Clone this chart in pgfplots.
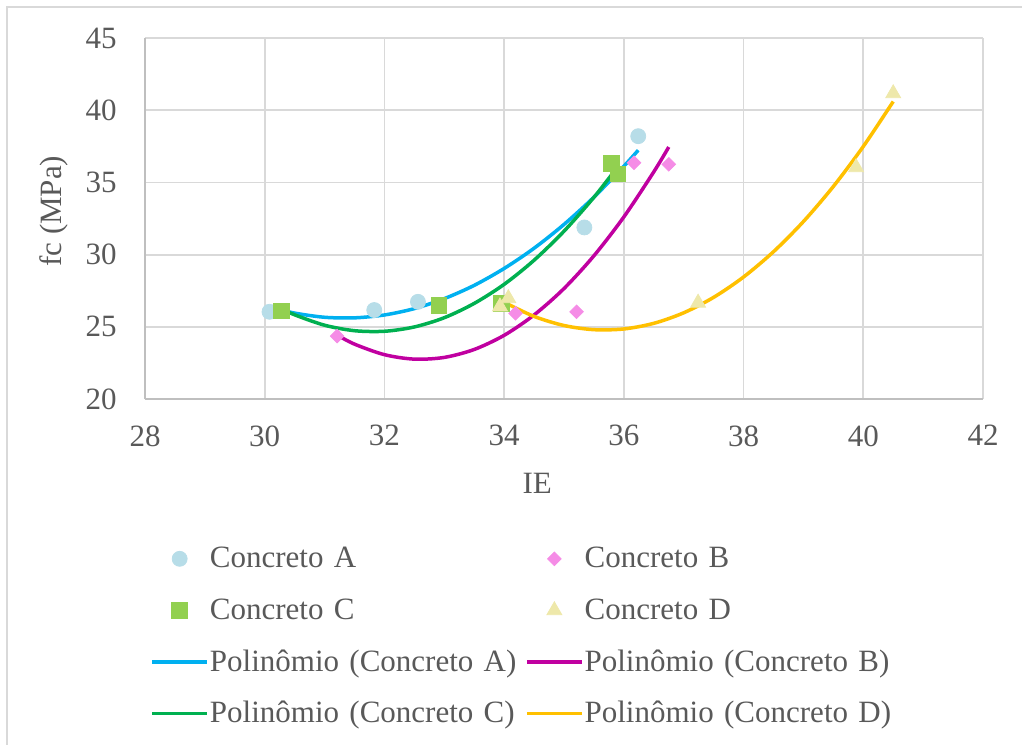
\documentclass[border=0pt]{standalone}
\usepackage{fontspec}
\setmainfont{Liberation Serif}
\usepackage{pgfplots}
\pgfplotsset{compat=1.18}
\usepackage{pgfplotstable}

\definecolor{txt}{HTML}{595959}
\definecolor{gridcol}{HTML}{D9D9D9}
\definecolor{axcol}{HTML}{BFBFBF}
\definecolor{bordercol}{HTML}{D9D9D9}
\definecolor{mA}{HTML}{B7DDE8}
\definecolor{mB}{HTML}{F58CE6}
\definecolor{mC}{HTML}{92D050}
\definecolor{mD}{HTML}{EEE8AA}
\definecolor{lA}{HTML}{00B0F0}
\definecolor{lB}{HTML}{C000A0}
\definecolor{lC}{HTML}{00B050}
\definecolor{lD}{HTML}{FFC000}

\newcommand{\fs}{\fontsize{15.5}{18}\selectfont}

\pgfplotstableread{
x y
30.08 26.04
31.83 26.16
32.56 26.73
35.34 31.88
36.24 38.20
}\dataA
\pgfplotstableread{
x y
31.21 24.36
34.19 25.93
35.21 26.04
36.17 36.36
36.75 36.25
}\dataB
\pgfplotstableread{
x y
30.28 26.11
32.91 26.50
33.95 26.62
35.79 36.30
35.90 35.60
}\dataC
\pgfplotstableread{
x y
33.93 26.40
34.07 26.97
37.24 26.66
39.88 36.04
40.50 41.16
}\dataD
% trend curves
\pgfplotstableread{
x y
30.08 26.37
30.5 25.95
31.0 25.66
31.5 25.62
32.0 25.82
32.5 26.26
33.0 26.95
33.5 27.87
34.0 29.04
34.5 30.44
35.0 32.09
35.5 33.98
36.0 36.12
36.24 37.23
}\trendA
\pgfplotstableread{
x y
31.21 24.43
31.5 23.80
32.0 23.07
32.5 22.76
33.0 22.88
33.5 23.43
34.0 24.41
34.5 25.82
35.0 27.65
35.5 29.92
36.0 32.61
36.5 35.73
36.75 37.45
}\trendB
\pgfplotstableread{
x y
30.28 26.25
30.5 25.83
31.0 25.11
31.5 24.73
32.0 24.69
32.5 24.99
33.0 25.63
33.5 26.62
34.0 27.94
34.5 29.61
35.0 31.62
35.5 33.97
35.9 36.10
}\trendC
\pgfplotstableread{
x y
33.93 26.86
34.0 26.70
34.5 25.72
35.0 25.09
35.5 24.80
36.0 24.85
36.5 25.24
37.0 25.97
37.5 27.04
38.0 28.45
38.5 30.20
39.0 32.29
39.5 34.72
40.0 37.49
40.5 40.60
}\trendD

\pgfplotsset{
  mylineleg/.style={legend image code/.code={\draw[##1] (0pt,0pt) -- (27.5pt,0pt);}},
  mymarkleg/.style={legend image code/.code={\draw[mark repeat=2,mark phase=2,##1] plot coordinates {(0pt,0pt) (13.75pt,0pt) (27.5pt,0pt)};}},
}

\begin{document}
\begin{tikzpicture}
\useasboundingbox (-72.5pt,-172.5pt) rectangle (438.5pt,199.5pt);
\draw[bordercol, line width=1pt] (-69pt,-260pt) rectangle (520pt,196pt);
\begin{axis}[
  at={(0,0)}, anchor=south west,
  scale only axis, width=419pt, height=180.5pt,
  xmin=28, xmax=42, ymin=20, ymax=45,
  xtick={28,30,...,42}, ytick={20,25,...,45},
  axis lines*=left, axis line style={-, draw=axcol, line width=0.9pt},
  grid=major, major grid style={draw=gridcol, line width=0.9pt},
  major tick length=0pt,
  /pgf/number format/assume math mode=true,
  tick label style={font=\fs, text=txt},
  yticklabel style={inner sep=0pt, anchor=east, xshift=-14pt},
  xticklabel style={inner sep=0pt, anchor=north, yshift=-13pt},
  xlabel={IE}, ylabel={fc (MPa)},
  xlabel style={at={(axis description cs:0.468,-0.2327)}, anchor=center, font=\fs, text=txt},
  ylabel style={at={(axis description cs:-0.1086,0.52)}, anchor=center, font=\fs, text=txt},
  legend columns=2,
  legend cell align=left,
  legend style={
    at={(axis description cs:0.006,-0.40)}, anchor=north west,
    draw=none, fill=none, inner sep=0pt, font=\fs, text=txt,
    row sep=10.8pt,
    nodes={inner sep=0pt, text width=157.6pt, text height=12pt, text depth=3pt},
    /tikz/every odd column/.append style={column sep=0.5pt},
  },
]
\addplot[only marks, mark=*, mark size=3.75pt, color=mA, mymarkleg] table {\dataA};
\addlegendentry{Concreto A}
\addplot[only marks, mark=square*, mark size=2.4pt, mark options={rotate=45}, color=mB, mymarkleg] table {\dataB};
\addlegendentry{Concreto B}
\addplot[only marks, mark=square*, mark size=3.9pt, color=mC, mymarkleg] table {\dataC};
\addlegendentry{Concreto C}
\addplot[only marks, mark=triangle*, mark size=4.3pt, color=mD, mymarkleg] table {\dataD};
\addlegendentry{Concreto D}
\addplot[color=lA, line width=1.75pt, smooth, mylineleg] table {\trendA};
\addlegendentry{Polinômio (Concreto A)}
\addplot[color=lB, line width=1.75pt, smooth, mylineleg] table {\trendB};
\addlegendentry{Polinômio (Concreto B)}
\addplot[color=lC, line width=1.75pt, smooth, mylineleg] table {\trendC};
\addlegendentry{Polinômio (Concreto C)}
\addplot[color=lD, line width=1.75pt, smooth, mylineleg] table {\trendD};
\addlegendentry{Polinômio (Concreto D)}
\end{axis}
\end{tikzpicture}
\end{document}
